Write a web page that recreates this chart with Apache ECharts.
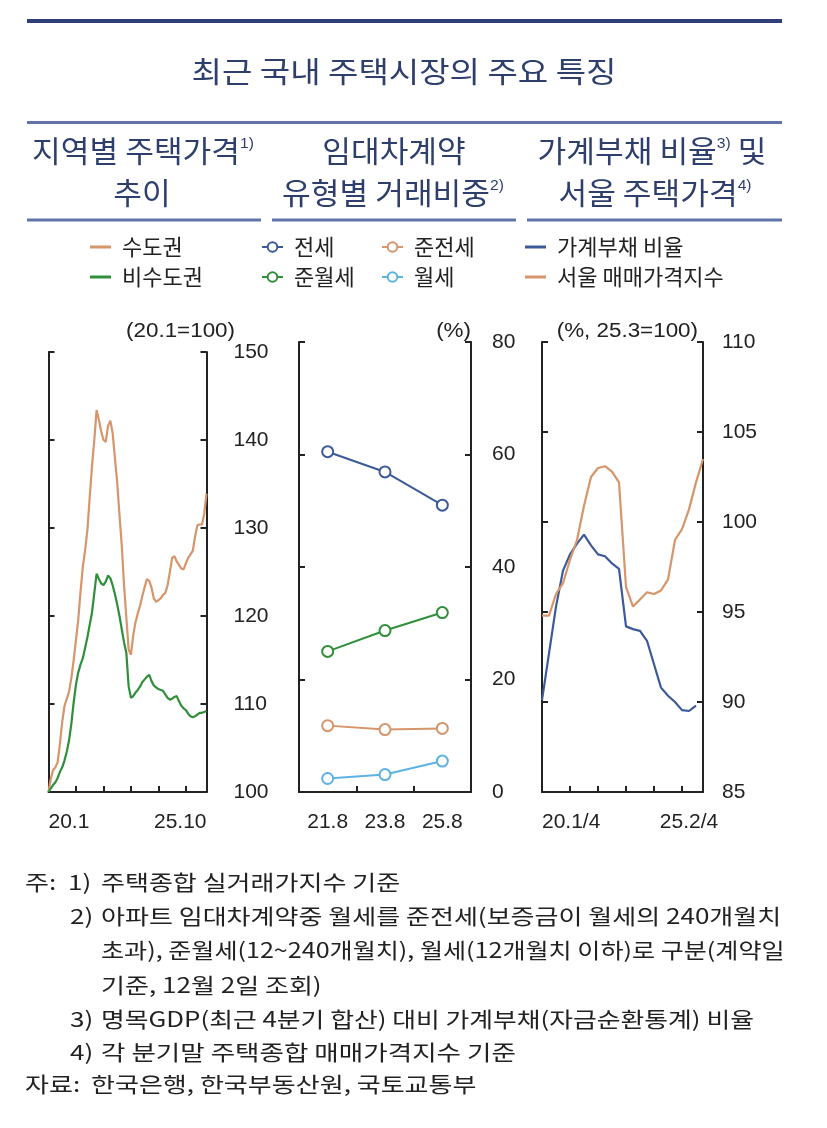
<!DOCTYPE html>
<html><head><meta charset="utf-8">
<script src="https://cdn.jsdelivr.net/npm/echarts@6/dist/echarts.min.js"></script>
<style>html,body{margin:0;padding:0;background:#fff}#c{width:827px;height:1128px}</style>
</head><body><div id="c"></div><script>
// ---------- DATA ----------
const months = ['20.1','20.2','20.3','20.4','20.5','20.6','20.7','20.8','20.9','20.10','20.11','20.12',
 '21.1','21.2','21.3','21.4','21.5','21.6','21.7','21.8','21.9','21.10','21.11','21.12',
 '22.1','22.2','22.3','22.4','22.5','22.6','22.7','22.8','22.9','22.10','22.11','22.12',
 '23.1','23.2','23.3','23.4','23.5','23.6','23.7','23.8','23.9','23.10','23.11','23.12',
 '24.1','24.2','24.3','24.4','24.5','24.6','24.7','24.8','24.9','24.10','24.11','24.12',
 '25.1','25.2','25.3','25.4','25.5','25.6','25.7','25.8','25.9','25.10'];
const capitalRegion = [100.0,101.5,102.5,102.8,103.4,105.5,108.0,109.8,110.6,111.4,113.0,115.0,
 117.3,119.6,122.8,125.6,127.5,129.8,133.5,137.0,140.0,143.4,142.3,141.0,
 140.0,139.8,141.6,142.2,140.8,138.0,135.2,131.5,128.0,123.5,119.8,116.2,
 115.6,117.8,119.3,120.3,121.2,122.3,123.3,124.2,124.0,123.2,122.0,121.6,
 121.8,122.0,122.4,122.6,123.5,125.0,126.6,126.8,126.2,125.8,125.4,125.3,
 126.0,126.6,127.0,127.4,129.0,130.3,130.4,130.4,131.6,133.9];
const nonCapitalRegion = [100.0,100.4,100.8,101.1,101.6,102.3,102.8,103.6,104.6,105.9,107.8,110.2,
 112.2,113.6,114.5,115.2,116.4,117.6,119.0,120.4,122.6,124.8,124.2,123.7,
 123.5,123.9,124.6,124.3,123.5,122.5,121.3,120.0,118.5,117.0,115.8,112.0,
 110.7,110.9,111.3,111.6,112.0,112.5,112.8,113.1,113.3,112.6,112.1,111.9,
 111.7,111.6,111.5,111.1,110.7,110.5,110.6,110.8,110.9,110.3,109.8,109.5,
 109.3,108.9,108.6,108.5,108.6,108.8,109.0,109.0,109.1,109.2];

const leaseCats = ['21.8','23.8','25.8'];
const jeonse = [60.5, 56.9, 51.0];
const semiJeonse = [11.8, 11.1, 11.3];
const semiWolse = [25.0, 28.7, 31.9];
const wolse = [2.4, 3.1, 5.5];

const quarters = ['20.1/4','20.2/4','20.3/4','20.4/4','21.1/4','21.2/4','21.3/4','21.4/4',
 '22.1/4','22.2/4','22.3/4','22.4/4','23.1/4','23.2/4','23.3/4','23.4/4',
 '24.1/4','24.2/4','24.3/4','24.4/4','25.1/4','25.2/4','25.3/4','25.4/4'];
const householdDebtRatio = [90.1,92.7,95.3,97.3,98.2,98.8,99.3,98.7,98.2,98.1,97.7,97.4,
 94.2,94.05,93.95,93.4,92.1,90.8,90.35,90.0,89.55,89.5,89.8];
const seoulPriceIndex = [94.8,94.8,96.0,96.6,97.9,99.0,100.9,102.5,103.0,103.1,102.8,102.2,
 96.4,95.3,95.7,96.1,96.0,96.2,96.8,99.0,99.6,100.7,102.2,103.5];

// ---------- STYLE ----------
const KR = '"Noto Sans CJK KR", sans-serif';
const NUM = '"Liberation Sans", Arial, sans-serif';
const ORANGE = '#D6956A', GREEN = '#2F8F3A', NAVY = '#3D5A98', SKY = '#5DB2E3';
const HEAD = '#2E3F6E', RULE = '#6074A8', INK = '#222';

function yPair(g, min, max, interval, margin) {
  const base = {type:'value', gridIndex:g, min, max, interval, splitLine:{show:false},
    axisLine:{show:true, lineStyle:{color:INK, width:2}},
    axisTick:{show:true, inside:true, length:6, lineStyle:{color:INK, width:2}}};
  return [
    Object.assign({}, base, {position:'left', axisLabel:{show:false}}),
    Object.assign({}, base, {position:'right', axisLabel:{show:true, margin, color:INK, fontSize:21, fontFamily:NUM, align:'left'}})
  ];
}
function xAxis(g, data, boundaryGap, tickInterval, labelFn, labelExtra) {
  return {type:'category', gridIndex:g, data, boundaryGap,
    axisLine:{show:true, onZero:false, lineStyle:{color:INK, width:2}},
    axisTick:{show:true, inside:true, length:6, interval:tickInterval, lineStyle:{color:INK, width:2}},
    axisLabel:Object.assign({show:true, interval:labelFn, margin:20, color:INK, fontSize:21, fontFamily:NUM}, labelExtra || {}),
    splitLine:{show:false}};
}
function line(name, x, y, data, color, marker) {
  return {name, type:'line', xAxisIndex:x, yAxisIndex:y, data,
    symbol: marker ? 'emptyCircle' : 'none', symbolSize: 11, showSymbol: !!marker,
    lineStyle:{color, width: marker ? 2 : 2.2}, itemStyle:{color, borderWidth:2},
    emphasis:{disabled:true}};
}
const NOTE_SIZE = 21, NOTE_SX = 1.24;
function note(x, y, text, sx) {
  return {type:'text', x, y, scaleX:sx || NOTE_SX, silent:true,
    style:{text, fontSize:NOTE_SIZE, fontFamily:KR, fill:INK, align:'left', verticalAlign:'middle'}};
}
function unit(x, y, text) {
  return {type:'text', x, y, scaleX:1.12, silent:true,
    style:{text, fontSize:20, fontFamily:NUM, fill:INK, align:'right', verticalAlign:'middle'}};
}
function head(x, y, main, sup, tail) {
  let t = '{m|' + main + '}';
  if (sup) t += '{s|' + sup + '}';
  if (tail) t += '{m|' + tail + '}';
  return {type:'text', x, y, scaleX:1.04, silent:true, style:{
    text:t, align:'center', verticalAlign:'middle',
    rich:{m:{fontSize:30, fontFamily:KR, fill:HEAD}, s:{fontSize:15, fontFamily:NUM, fill:HEAD, verticalAlign:'top'}}}};
}
function rule(x, y, w, h, c) { return {type:'rect', silent:true, shape:{x, y, width:w, height:h}, style:{fill:c}}; }

const legendBase = {orient:'vertical', top:235, padding:0, itemWidth:21, itemHeight:12, itemGap:6,
  textStyle:{fontSize:22, fontFamily:KR, color:INK, lineHeight:24, padding:[0,0,0,6]}, selectedMode:false};
const legendLine = {icon:'rect', itemHeight:3};

const ys = [].concat(yPair(0, 100, 150, 10, 27), yPair(1, 0, 80, 20, 21), yPair(2, 85, 110, 5, 19));

const option = {
  animation:false,
  backgroundColor:'#fff',
  grid:[
    {left:48.5, top:352, width:158, height:440},
    {left:299, top:342, width:172, height:450},
    {left:542, top:342, width:161, height:450}
  ],
  xAxis:[
    xAxis(0, months, false, 11, (i) => i === 0 || i === months.length - 1, {alignMinLabel:'left', alignMaxLabel:'right'}),
    xAxis(1, leaseCats, true, 0, 0, {showMinLabel:true, showMaxLabel:true}),
    xAxis(2, quarters, false, 3, (i) => i === 0 || i === 21, {alignMinLabel:'left'})
  ],
  yAxis: ys,
  legend:[
    Object.assign({}, legendBase, legendLine, {left:90, data:['수도권','비수도권']}),
    Object.assign({}, legendBase, {left:261, data:['전세','준월세']}),
    Object.assign({}, legendBase, {left:381, data:['준전세','월세']}),
    Object.assign({}, legendBase, legendLine, {left:525, data:['가계부채 비율','서울 매매가격지수']})
  ],
  series:[
    line('수도권', 0, 1, capitalRegion, ORANGE),
    line('비수도권', 0, 1, nonCapitalRegion, GREEN),
    line('전세', 1, 3, jeonse, NAVY, true),
    line('준전세', 1, 3, semiJeonse, ORANGE, true),
    line('준월세', 1, 3, semiWolse, GREEN, true),
    line('월세', 1, 3, wolse, SKY, true),
    line('가계부채 비율', 2, 5, householdDebtRatio, NAVY),
    line('서울 매매가격지수', 2, 5, seoulPriceIndex, ORANGE)
  ],
  graphic:[
    rule(27, 19, 755, 4, '#313F78'),
    {type:'text', x:404, y:72, scaleX:1.14, silent:true,
     style:{text:'최근 국내 주택시장의 주요 특징', fontSize:29, fontFamily:KR, fill:HEAD, align:'center', verticalAlign:'middle'}},
    rule(27, 121, 755, 3, RULE),
    head(143, 151, '지역별 주택가격', '1)'),
    head(142, 193, '추이'),
    head(394, 151, '임대차계약'),
    head(393, 193, '유형별 거래비중', '2)'),
    head(652, 151, '가계부채 비율', '3)', ' 및'),
    head(655, 193, '서울 주택가격', '4)'),
    rule(27, 218.5, 234, 3, RULE),
    rule(272, 218.5, 244, 3, RULE),
    rule(527, 218.5, 255, 3, RULE),
    unit(235, 331, '(20.1=100)'),
    unit(471, 331, '(%)'),
    unit(698, 331, '(%, 25.3=100)'),
    note(25, 882, '주:'),
    note(68, 882, '1)'),
    note(101, 882, '주택종합 실거래가지수 기준'),
    note(70, 916, '2)'),
    note(101, 916, '아파트 임대차계약중 월세를 준전세(보증금이 월세의 240개월치'),
    note(101, 950, '초과), 준월세(12~240개월치), 월세(12개월치 이하)로 구분(계약일', 1.195),
    note(101, 985, '기준, 12월 2일 조회)'),
    note(70, 1019, '3)'),
    note(101, 1019, '명목GDP(최근 4분기 합산) 대비 가계부채(자금순환통계) 비율', 1.23),
    note(70, 1052, '4)'),
    note(101, 1052, '각 분기말 주택종합 매매가격지수 기준', 1.265),
    note(25, 1084, '자료:'),
    note(91, 1084, '한국은행, 한국부동산원, 국토교통부')
  ]
};

const chart = echarts.init(document.getElementById('c'), null, {renderer:'canvas'});
chart.setOption(option);
</script></body></html>
